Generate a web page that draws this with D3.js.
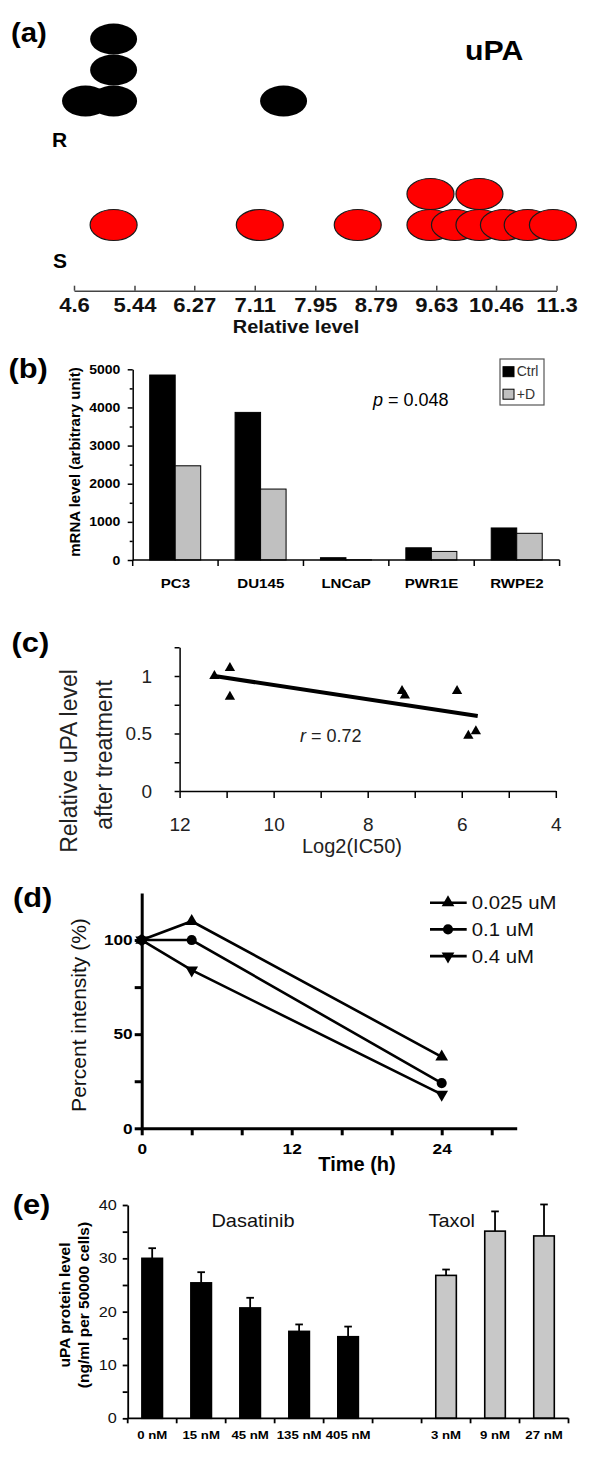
<!DOCTYPE html>
<html><head><meta charset="utf-8">
<script src="https://cdn.jsdelivr.net/npm/d3@7"></script>
<style>body{margin:0;background:#fff}svg{display:block}</style>
</head><body><script>
// ---------------- data ----------------
// (a) dot plot of uPA relative levels
const aTicks = [4.6, 5.44, 6.27, 7.11, 7.95, 8.79, 9.63, 10.46, 11.3];
const aGroups = ['R', 'S'];
const aResistantLevel = [4.76, 5.15, 5.15, 5.15, 7.51];
const aResistantStack = [0, 0, 1, 2, 0];
const aSensitiveLevel = [5.15, 7.18, 8.54, 9.55, 9.55, 9.89, 10.23, 10.23, 10.57, 10.90, 11.25];
const aSensitiveStack = [0, 0, 0, 0, 1, 0, 0, 1, 0, 0, 0];

// (b) mRNA level
const bCellLines = ['PC3', 'DU145', 'LNCaP', 'PWR1E', 'RWPE2'];
const bSeries = ['Ctrl', '+D'];
const bCtrl = [4850, 3870, 60, 320, 840];
const bPlusD = [2470, 1860, 5, 225, 700];
const bYTicks = [0, 1000, 2000, 3000, 4000, 5000];
const bYMinor = [500, 1500, 2500, 3500, 4500];

// (c) correlation
const cLog2IC50 = [11.26, 10.93, 10.93, 7.27, 7.21, 6.10, 5.86, 5.70];
const cRelativeUPA = [1.00, 1.07, 0.82, 0.87, 0.83, 0.87, 0.48, 0.52];
const cFitRange = [11.26, 5.66];
const cXTicks = [4, 5, 6, 7, 8, 9, 10, 11, 12];
const cYTicks = [0, 0.25, 0.5, 0.75, 1, 1.25];

// (d) time course
const dTimes = [0, 4, 24];
const dSeriesNames = ['0.025 uM', '0.1 uM', '0.4 uM'];
const d0025 = [100, 110, 38];
const d01 = [100, 100, 24];
const d04 = [100, 84, 18];
const dXTicks = [0, 4, 8, 12, 16, 20, 24, 28];
const dYTicks = [0, 25, 50, 75, 100];

// (e) protein level
const eDasatinibDoses = ['0 nM', '15 nM', '45 nM', '135 nM', '405 nM'];
const eDasatinibMean = [30.0, 25.4, 20.7, 16.3, 15.3];
const eDasatinibSD = [1.9, 2.0, 1.9, 1.3, 1.9];
const eTaxolDoses = ['3 nM', '9 nM', '27 nM'];
const eTaxolMean = [26.8, 35.1, 34.2];
const eTaxolSD = [1.1, 3.7, 5.9];
const eYTicks = [0, 5, 10, 15, 20, 25, 30, 35, 40];

// ---------------- helpers ----------------
const FONT = '"Liberation Sans", Arial, Helvetica, sans-serif';
const svg = d3.select('body').append('svg').attr('width', 600).attr('height', 1479);
svg.append('rect').attr('width', 600).attr('height', 1479).attr('fill', '#fff');

function txt(x, y, s, o = {}) {
  const t = svg.append('text')
    .attr('transform', `translate(${x},${y})` + (o.rot ? ` rotate(${o.rot})` : '') + ` scale(${o.sx || 1},1)`)
    .attr('font-family', FONT)
    .attr('font-size', o.size || 14)
    .attr('font-weight', o.bold ? 'bold' : 'normal')
    .attr('text-anchor', o.anchor || 'start')
    .attr('fill', o.color || '#000');
  if (s !== null) t.text(s);
  return t;
}
function styleAxis(g, o) {
  g.attr('font-family', FONT);
  g.select('.domain').attr('stroke', o.color || '#000').attr('stroke-width', o.width || 1.5);
  g.selectAll('.tick line').attr('stroke', o.color || '#000').attr('stroke-width', o.width || 1.5);
  const tx = g.selectAll('.tick text')
    .attr('font-size', o.size).attr('font-family', FONT)
    .attr('font-weight', o.bold ? 'bold' : 'normal')
    .attr('fill', o.textColor || '#000');
  if (o.sx) {
    tx.attr('transform', `scale(${o.sx},1)`);
    if (o.left) tx.attr('x', function () { return +d3.select(this).attr('x') / o.sx; });
  }
}

// ---------------- (a) ----------------
txt(11, 42, '(a)', { size: 28, bold: true, sx: 1.05 });
txt(465, 60, 'uPA', { size: 28, bold: true, sx: 1.08 });
txt(52, 147, 'R', { size: 21, bold: true });
txt(53, 268, 'S', { size: 21, bold: true });

const xA = d3.scaleLinear().domain([4.6, 11.3]).range([74, 556.5]);
const yA = d3.scalePoint().domain(aGroups).range([101, 225]);
const stackA = d3.scaleLinear().domain([0, 1]).range([0, -31]);
const aPts = [
  ...aResistantLevel.map((v, i) => ({ g: 'R', v, s: aResistantStack[i] })),
  ...aSensitiveLevel.map((v, i) => ({ g: 'S', v, s: aSensitiveStack[i] }))
];
svg.append('g').selectAll('ellipse').data(aPts).join('ellipse')
  .attr('cx', d => xA(d.v))
  .attr('cy', d => yA(d.g) + stackA(d.s))
  .attr('rx', 23.5).attr('ry', 15.5)
  .attr('fill', d => d.g === 'R' ? '#000' : '#ff0000')
  .attr('stroke', d => d.g === 'R' ? 'none' : '#1a1a1a')
  .attr('stroke-width', 1.2);

const gAx = svg.append('g').attr('transform', 'translate(0,290.7)')
  .call(d3.axisBottom(xA).tickValues(aTicks).tickSizeInner(-5).tickSizeOuter(0).tickPadding(6).tickFormat(d => String(d)));
styleAxis(gAx, { size: 21, bold: true, color: '#444', width: 1.5, textColor: '#111', sx: 1.05 });
txt(296, 332.7, 'Relative level', { size: 19, bold: true, anchor: 'middle', sx: 1.05, color: '#111' });

// ---------------- (b) ----------------
txt(8.5, 378, '(b)', { size: 28, bold: true, sx: 1.1 });
const xB = d3.scaleBand().domain(bCellLines).range([132.7, 559.6]);
const xB1 = d3.scaleBand().domain(bSeries).range([17, 68]);
const yB = d3.scaleLinear().domain([0, 5000]).range([560, 369.3]);
const bColor = d3.scaleOrdinal().domain(bSeries).range(['#000', '#c0c0c0']);
const bRows = bCellLines.map((c, i) => ({ c, vals: [{ s: 'Ctrl', v: bCtrl[i] }, { s: '+D', v: bPlusD[i] }] }));
svg.append('g').selectAll('g').data(bRows).join('g')
  .attr('transform', d => `translate(${xB(d.c)},0)`)
  .selectAll('rect').data(d => d.vals).join('rect')
  .attr('x', d => xB1(d.s)).attr('width', xB1.bandwidth())
  .attr('y', d => yB(d.v)).attr('height', d => yB(0) - yB(d.v))
  .attr('fill', d => bColor(d.s)).attr('stroke', '#000').attr('stroke-width', 1);

const gBy = svg.append('g').attr('transform', `translate(${xB.range()[0]},0)`)
  .call(d3.axisLeft(yB).tickValues(bYTicks).tickSize(5).tickSizeOuter(0).tickPadding(7.3).tickFormat(d => String(d)));
styleAxis(gBy, { size: 12.5, bold: true, width: 1.5, sx: 1.12, left: true });
const gByMinor = svg.append('g').attr('transform', `translate(${xB.range()[0]},0)`)
  .call(d3.axisLeft(yB).tickValues(bYMinor).tickSize(3).tickFormat(''));
gByMinor.select('.domain').remove();
gByMinor.selectAll('.tick line').attr('stroke', '#000').attr('stroke-width', 1.5);
// x axis with band boundary ticks
svg.append('line').attr('x1', xB.range()[0]).attr('x2', xB.range()[1]).attr('y1', yB(0)).attr('y2', yB(0))
  .attr('stroke', '#000').attr('stroke-width', 1.5);
svg.append('g').selectAll('line').data(d3.range(bCellLines.length + 1)).join('line')
  .attr('x1', i => xB.range()[0] + i * xB.step()).attr('x2', i => xB.range()[0] + i * xB.step())
  .attr('y1', yB(0)).attr('y2', yB(0) + 6).attr('stroke', '#000').attr('stroke-width', 1.5);
bCellLines.forEach(c => txt(xB(c) + xB.bandwidth() / 2, 587.7, c, { size: 13.5, bold: true, anchor: 'middle', sx: 1.12 }));
txt(79.5, 462, 'mRNA level (arbitrary unit)', { size: 15, bold: true, anchor: 'middle', rot: -90 });
// legend
svg.append('rect').attr('x', 500).attr('y', 359).attr('width', 44).attr('height', 46)
  .attr('fill', '#fff').attr('stroke', '#555').attr('stroke-width', 1.2);
bSeries.forEach((s, i) => {
  svg.append('rect').attr('x', 503).attr('y', 366.7 + i * 22.5).attr('width', 11).attr('height', 10)
    .attr('fill', bColor(s)).attr('stroke', '#000').attr('stroke-width', 1);
  txt(516.7, 375.7 + i * 23, s, { size: 14, color: '#333' });
});
const pT = txt(373, 406, null, { size: 18 });
pT.append('tspan').attr('font-style', 'italic').text('p');
pT.append('tspan').text(' = 0.048');

// ---------------- (c) ----------------
txt(11.5, 651.7, '(c)', { size: 28, bold: true, sx: 1.1 });
const xC = d3.scaleLinear().domain([12, 4]).range([179.6, 555.8]);
const yC = d3.scaleLinear().domain([0, 1.25]).range([791, 647.25]);
const gCx = svg.append('g').attr('transform', `translate(0,${yC(0)})`)
  .call(d3.axisBottom(xC).tickValues(cXTicks).tickSize(7).tickSizeOuter(0).tickPadding(20)
    .tickFormat(d => d % 2 === 0 ? d : ''));
styleAxis(gCx, { size: 19, width: 1.5, textColor: '#222' });
const gCy = svg.append('g').attr('transform', `translate(${xC(12)},0)`)
  .call(d3.axisLeft(yC).tickValues(cYTicks).tickSize(5).tickSizeOuter(0).tickPadding(22.6)
    .tickFormat(d => (d === 0 || d === 0.5 || d === 1) ? d : ''));
styleAxis(gCy, { size: 19, width: 1.5, textColor: '#222' });
// fit line (least squares)
const mx = d3.mean(cLog2IC50), my = d3.mean(cRelativeUPA);
const slope = d3.sum(cLog2IC50, (x, i) => (x - mx) * (cRelativeUPA[i] - my)) / d3.sum(cLog2IC50, x => (x - mx) ** 2);
const fit = x => my + slope * (x - mx);
svg.append('line')
  .attr('x1', xC(cFitRange[0])).attr('y1', yC(fit(cFitRange[0])))
  .attr('x2', xC(cFitRange[1])).attr('y2', yC(fit(cFitRange[1])))
  .attr('stroke', '#000').attr('stroke-width', 4);
svg.append('g').selectAll('path').data(cLog2IC50.map((x, i) => [x, cRelativeUPA[i]])).join('path')
  .attr('transform', d => `translate(${xC(d[0])},${yC(d[1])})`)
  .attr('d', d3.symbol(d3.symbolTriangle).size(46)).attr('fill', '#000');
const rT = txt(300, 741.7, null, { size: 18, color: '#222' });
rT.append('tspan').attr('font-style', 'italic').text('r');
rT.append('tspan').text(' = 0.72');
txt(352, 853.3, 'Log2(IC50)', { size: 20, anchor: 'middle', color: '#222' });
txt(76.5, 761, 'Relative uPA level', { size: 23, anchor: 'middle', rot: -90, color: '#222' });
txt(111.5, 755, 'after treatment', { size: 23, anchor: 'middle', rot: -90, color: '#222' });

// ---------------- (d) ----------------
txt(13, 907, '(d)', { size: 28, bold: true, sx: 1.1 });
const xD = d3.scaleLinear().domain([0, 30]).range([141.7, 516.7]);
const yD = d3.scaleLinear().domain([0, 125]).range([1128.3, 893]);
const gDx = svg.append('g').attr('transform', `translate(0,${yD(0)})`)
  .call(d3.axisBottom(xD).tickValues(dXTicks).tickSize(7).tickSizeOuter(0).tickPadding(8)
    .tickFormat(d => d % 12 === 0 ? d : ''));
styleAxis(gDx, { size: 15, bold: true, width: 3, sx: 1.15 });
const gDy = svg.append('g').attr('transform', `translate(${xD(0)},0)`)
  .call(d3.axisLeft(yD).tickValues(dYTicks).tickSize(7).tickSizeOuter(0).tickPadding(2)
    .tickFormat(d => d % 50 === 0 ? d : ''));
styleAxis(gDy, { size: 15, bold: true, width: 3, sx: 1.15, left: true });
const dSeries = [d0025, d01, d04];
const dSymbols = [
  d3.symbol(d3.symbolTriangle).size(70)(),
  d3.symbol(d3.symbolCircle).size(80)(),
  d3.symbol(d3.symbolTriangle).size(70)()
];
const dRot = [0, 0, 180];
const lineD = d3.line().x((v, i) => xD(dTimes[i])).y(v => yD(v));
dSeries.forEach((vals, k) => {
  svg.append('path').attr('d', lineD(vals)).attr('fill', 'none').attr('stroke', '#000').attr('stroke-width', 2.6);
  svg.append('g').selectAll('path').data(vals).join('path')
    .attr('transform', (v, i) => `translate(${xD(dTimes[i])},${yD(v)}) rotate(${dRot[k]})`)
    .attr('d', dSymbols[k]).attr('fill', '#000');
});
dSeriesNames.forEach((n, k) => {
  const y = 902.7 + k * 26.7;
  svg.append('line').attr('x1', 430).attr('x2', 466.7).attr('y1', y).attr('y2', y).attr('stroke', '#000').attr('stroke-width', 2.6);
  svg.append('path').attr('transform', `translate(448,${y}) rotate(${dRot[k]})`).attr('d', dSymbols[k]).attr('fill', '#000');
  txt(471.7, y + 6.5, n, { size: 18.5, sx: 1.1, color: '#111' });
});
txt(357, 1171, 'Time (h)', { size: 20, bold: true, anchor: 'middle' });
txt(85.5, 1015, 'Percent intensity (%)', { size: 21, anchor: 'middle', rot: -90, color: '#111' });

// ---------------- (e) ----------------
txt(12.7, 1214, '(e)', { size: 28, bold: true, sx: 1.1 });
const eGap = ' ';
const eDomain = [...eDasatinibDoses, eGap, ...eTaxolDoses];
const xE = d3.scaleBand().domain(eDomain).range([127.7, 568.5]).paddingInner(0.58).paddingOuter(0.29);
const yE = d3.scaleLinear().domain([0, 40]).range([1418.3, 1205]);
const eRows = [
  ...eDasatinibDoses.map((d, i) => ({ d, m: eDasatinibMean[i], sd: eDasatinibSD[i], c: '#000' })),
  ...eTaxolDoses.map((d, i) => ({ d, m: eTaxolMean[i], sd: eTaxolSD[i], c: '#c8c8c8' }))
];
const gE = svg.append('g');
// error bars
gE.selectAll('line.err').data(eRows).join('line').attr('class', 'err')
  .attr('x1', d => xE(d.d) + xE.bandwidth() / 2).attr('x2', d => xE(d.d) + xE.bandwidth() / 2)
  .attr('y1', d => yE(d.m)).attr('y2', d => yE(d.m + d.sd)).attr('stroke', '#000').attr('stroke-width', 1.8);
gE.selectAll('line.cap').data(eRows).join('line').attr('class', 'cap')
  .attr('x1', d => xE(d.d) + xE.bandwidth() / 2 - 3.8).attr('x2', d => xE(d.d) + xE.bandwidth() / 2 + 3.8)
  .attr('y1', d => yE(d.m + d.sd)).attr('y2', d => yE(d.m + d.sd)).attr('stroke', '#000').attr('stroke-width', 1.8);
gE.selectAll('rect').data(eRows).join('rect')
  .attr('x', d => xE(d.d)).attr('width', xE.bandwidth())
  .attr('y', d => yE(d.m)).attr('height', d => yE(0) - yE(d.m))
  .attr('fill', d => d.c).attr('stroke', '#000').attr('stroke-width', 1.6);
const gEy = svg.append('g').attr('transform', `translate(${xE.range()[0]},0)`)
  .call(d3.axisLeft(yE).tickValues(eYTicks).tickSize(5).tickSizeOuter(0).tickPadding(6)
    .tickFormat(d => d % 10 === 0 ? d : ''));
styleAxis(gEy, { size: 14.5, width: 1.8, sx: 1.12, left: true, textColor: '#111' });
svg.append('line').attr('x1', xE.range()[0]).attr('x2', xE.range()[1]).attr('y1', yE(0)).attr('y2', yE(0))
  .attr('stroke', '#000').attr('stroke-width', 1.8);
svg.append('g').selectAll('line').data(d3.range(eDomain.length + 1)).join('line')
  .attr('x1', i => xE.range()[0] + i * xE.step()).attr('x2', i => xE.range()[0] + i * xE.step())
  .attr('y1', yE(0)).attr('y2', yE(0) + 5).attr('stroke', '#000').attr('stroke-width', 1.8);
eRows.forEach(r => txt(xE(r.d) + xE.bandwidth() / 2, 1439.3, r.d, { size: 11.5, bold: true, anchor: 'middle', sx: 1.15 }));
txt(253, 1226.7, 'Dasatinib', { size: 19, anchor: 'middle', sx: 1.05, color: '#111' });
txt(451.7, 1226.7, 'Taxol', { size: 19, anchor: 'middle', sx: 1.05, color: '#111' });
txt(70, 1305, 'uPA protein level', { size: 15.5, bold: true, anchor: 'middle', rot: -90 });
txt(89, 1305, '(ng/ml per 50000 cells)', { size: 15.5, bold: true, anchor: 'middle', rot: -90 });
</script></body></html>
